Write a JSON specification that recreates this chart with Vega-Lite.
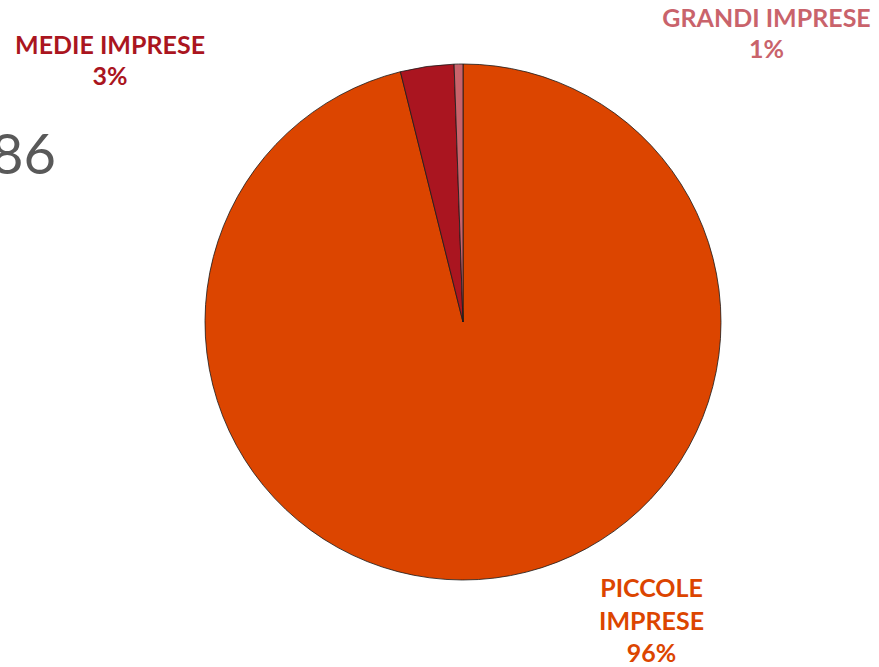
{
  "$schema": "https://vega.github.io/schema/vega-lite/v6.json",
  "width": 516,
  "height": 516,
  "autosize": {"type": "none"},
  "padding": {"left": 205, "top": 64, "right": 158, "bottom": 87},
  "background": "white",
  "config": {"view": {"stroke": null}},
  "title": {"text": "86", "anchor": "start", "frame": "group", "dx": -214, "dy": 227, "fontSize": 56, "font": "Lato", "fontWeight": "normal", "color": "#595959", "baseline": "alphabetic"},
  "data": {
    "values": [
      {"name": "PICCOLE IMPRESE", "value": 96.1, "label": "PICCOLE\nIMPRESE\n96%"},
      {"name": "MEDIE IMPRESE", "value": 3.35, "label": "MEDIE IMPRESE\n3%"},
      {"name": "GRANDI IMPRESE", "value": 0.55, "label": "GRANDI IMPRESE\n1%"}
    ]
  },
  "encoding": {
    "theta": {"field": "value", "type": "quantitative", "stack": true},
    "order": {"field": "value", "type": "quantitative", "sort": "descending"}
  },
  "layer": [
    {
      "mark": {"type": "arc", "radius": 258, "stroke": "#1a1a1a", "strokeWidth": 0.8},
      "encoding": {
        "color": {"field": "name", "type": "nominal", "legend": null,
          "scale": {"domain": ["PICCOLE IMPRESE", "MEDIE IMPRESE", "GRANDI IMPRESE"], "range": ["#DC4500", "#AA1520", "#C9636B"]}}
      }
    },
    {
      "mark": {"type": "text", "radius": 258, "dx": 157, "dy": 11, "font": "Lato", "fontWeight": "bold", "fontSize": 25, "lineBreak": "\n", "lineHeight": 32.5, "align": "center", "baseline": "middle", "color": "#DC4500"},
      "encoding": {"text": {"condition": {"test": "datum.name === 'PICCOLE IMPRESE'", "field": "label"}, "value": ""}}
    },
    {
      "mark": {"type": "text", "radius": 258, "dx": -317, "dy": -21, "font": "Lato", "fontWeight": "bold", "fontSize": 25, "lineBreak": "\n", "lineHeight": 31, "align": "center", "baseline": "middle", "color": "#AA1520"},
      "encoding": {"text": {"condition": {"test": "datum.name === 'MEDIE IMPRESE'", "field": "label"}, "value": ""}}
    },
    {
      "mark": {"type": "text", "radius": 258, "dx": 308, "dy": -45, "font": "Lato", "fontWeight": "bold", "fontSize": 25, "lineBreak": "\n", "lineHeight": 31, "align": "center", "baseline": "middle", "color": "#C9636B"},
      "encoding": {"text": {"condition": {"test": "datum.name === 'GRANDI IMPRESE'", "field": "label"}, "value": ""}}
    }
  ]
}
